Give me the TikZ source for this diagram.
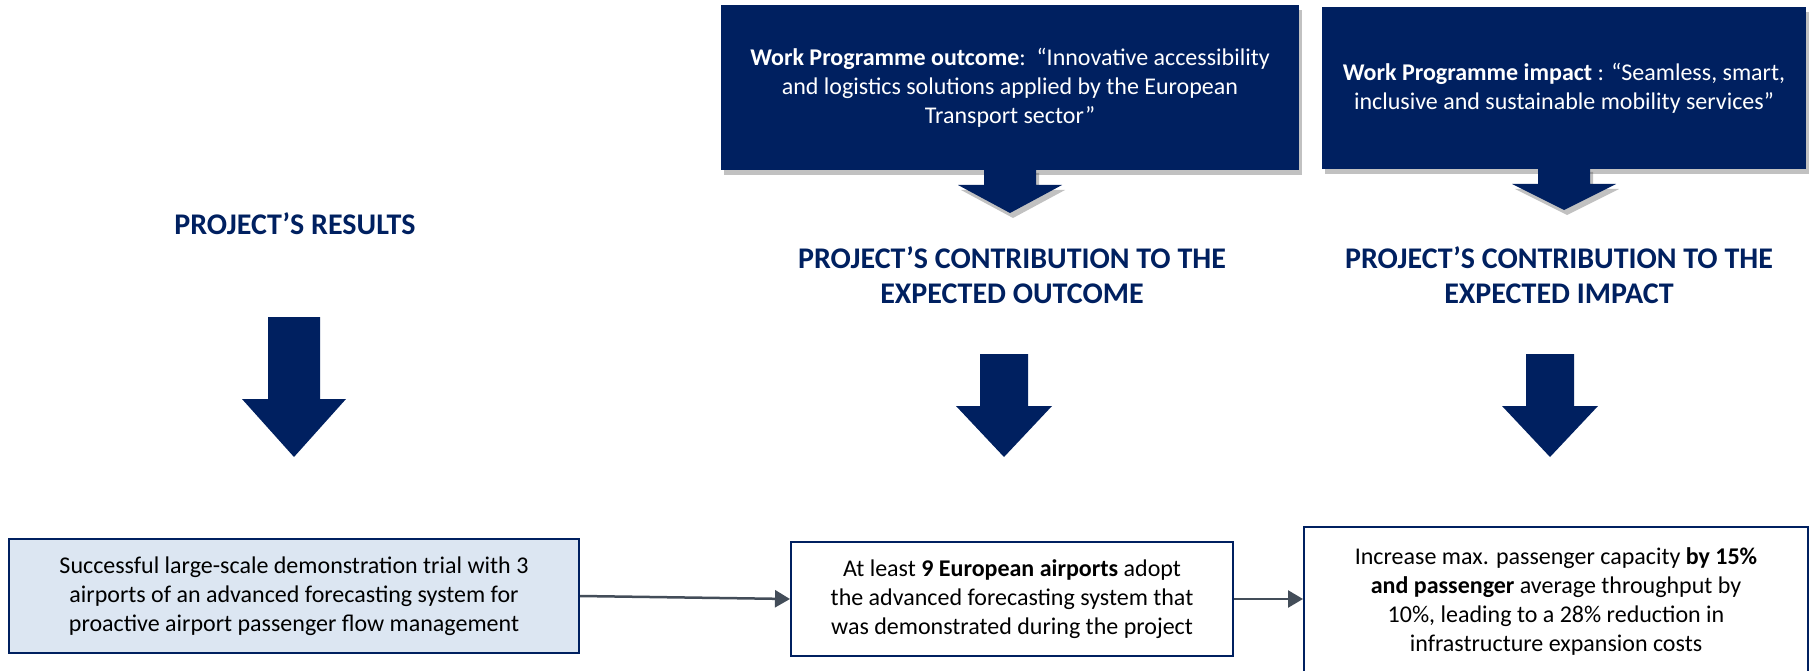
\documentclass[tikz,border=0pt]{standalone}
\usepackage{fontspec}
\setmainfont{Carlito}
\usetikzlibrary{arrows.meta, shadows}
\definecolor{navy}{HTML}{002060}
\definecolor{slate}{HTML}{434D59}
\definecolor{paleblue}{HTML}{DCE6F2}
\tikzstyle{wpbox} = [rectangle, fill=navy, text=white, align=center, inner sep=0pt, font=\fontsize{24}{29}\selectfont, drop shadow={shadow xshift=3pt, shadow yshift=-5pt, opacity=0.35, fill=black!70}]
\tikzstyle{wpshadow} = [drop shadow={shadow xshift=3pt, shadow yshift=-5pt, opacity=0.35, fill=black!70}]
\tikzstyle{heading} = [align=center, text=navy, font=\fontsize{30}{35}\selectfont\bfseries]
\tikzstyle{resbox} = [rectangle, draw=navy, line width=2pt, align=center, inner sep=0pt, font=\fontsize{24}{29}\selectfont]
\tikzstyle{link} = [line width=2.5pt, draw=slate, -{Triangle[length=15pt, width=17pt]}]
% block arrow pointing down: [opts] x, top, neck, tip, half stem, half head
\newcommand{\bigdown}[7][]{\fill[navy, #1] ({#2-#6},#3) -- ({#2+#6},#3) -- ({#2+#6},#4) -- ({#2+#7},#4) -- (#2,#5) -- ({#2-#7},#4) -- ({#2-#6},#4) -- cycle;}

\begin{document}
\begin{tikzpicture}[x=1pt, y=-1pt]
  \useasboundingbox (0,0) rectangle (1814,671);
  \clip (0,0) rectangle (1814,671);

  % work programme boxes
  \node (wpout) [wpbox, minimum width=578pt, minimum height=165pt] at (1010,87.5) {\textbf{Work Programme outcome}:\ \ “Innovative accessibility\\and logistics solutions applied by the European\\Transport sector”};
  \bigdown[wpshadow]{1010}{168}{185}{213}{26}{52}
  \node (wpimp) [wpbox, minimum width=484pt, minimum height=162pt] at (1564,88) {\textbf{Work Programme impact} : “Seamless, smart,\\inclusive and sustainable mobility services”};
  \bigdown[wpshadow]{1564}{167}{184}{210}{26}{52}

  % headings
  \node (hres) [heading] at (295,224) {PROJECT’S RESULTS};
  \node (hout) [heading] at (1012,275) {PROJECT’S CONTRIBUTION TO THE\\EXPECTED OUTCOME};
  \node (himp) [heading] at (1559,275) {PROJECT’S CONTRIBUTION TO THE\\EXPECTED IMPACT};

  \bigdown{294}{317}{399}{457}{26}{52}
  \bigdown{1004}{354}{406}{457}{24}{48}
  \bigdown{1550}{354}{406}{457}{24}{48}

  % result boxes
  \node (res) [resbox, fill=paleblue, minimum width=570pt, minimum height=114pt] at (294,596) {Successful large-scale demonstration trial with 3\\airports of an advanced forecasting system for\\proactive airport passenger flow management};
  \node (out) [resbox, minimum width=442pt, minimum height=114pt] at (1012,599) {At least \textbf{9 European airports} adopt\\the advanced forecasting system that\\was demonstrated during the project};
  \node (imp) [resbox, minimum width=504pt, minimum height=150pt] at (1556,602) {Increase max. passenger capacity \textbf{by 15\%}\\\textbf{and passenger} average throughput by\\10\%, leading to a 28\% reduction in\\infrastructure expansion costs};

  \draw [link] (res.east) -- (out.west);
  \draw [link] (out.east) -- (out.east -| imp.west);
\end{tikzpicture}
\end{document}
